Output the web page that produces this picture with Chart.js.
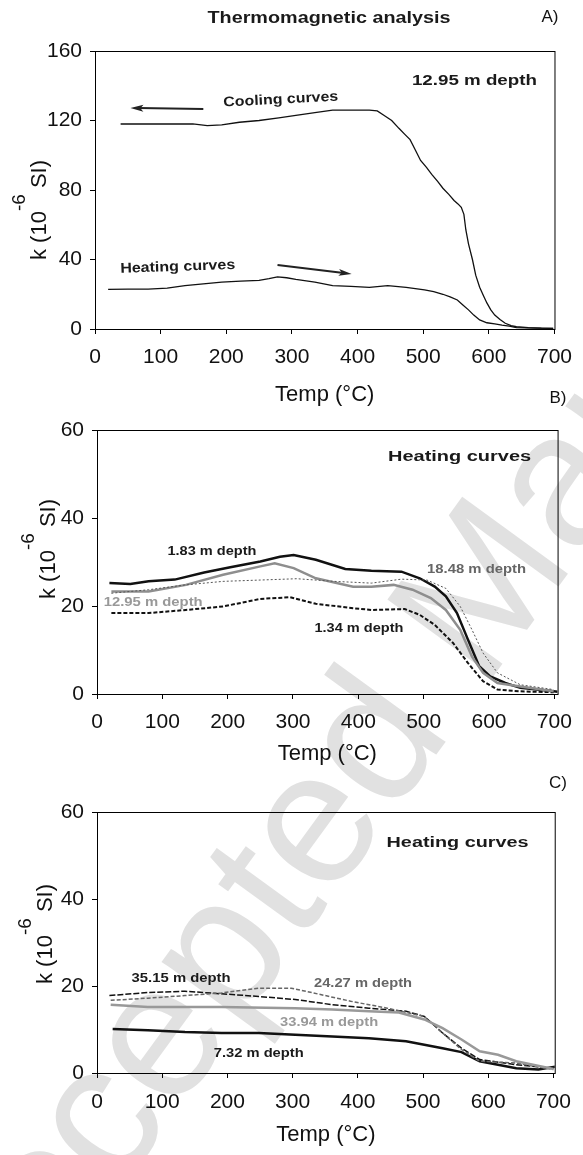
<!DOCTYPE html>
<html>
<head>
    <meta charset="utf-8" />
    <title>Thermomagnetic analysis</title>
    <script src="https://cdn.jsdelivr.net/npm/chart.js"></script>
    <style>
        html, body { margin: 0; padding: 0; background: #fff; overflow: hidden; }
        #page { position: relative; width: 583px; height: 1155px; overflow: hidden; background: #fff; }
        #stamp {
            position: absolute; left: -143px; top: 1278px;
            font: 190px/1 'Liberation Sans', Arial, sans-serif; color: #e1e1e1;
            white-space: nowrap; transform-origin: 0 0; transform: rotate(-54deg);
        }
        canvas { position: absolute; left: 0; }
    </style>
</head>
<body>
    <div id="page">
        <div id="stamp">Accepted Manuscript</div>
        <canvas id="chartA" width="583" height="410" style="top:0"></canvas>
        <canvas id="chartB" width="583" height="385" style="top:385px"></canvas>
        <canvas id="chartC" width="583" height="390" style="top:765px"></canvas>
    </div>

    <script>
        // ---- A) 12.95 m sample, heating and cooling runs ----
        const coolT = [39, 100, 149, 171, 193, 220, 250, 280, 306, 335, 362, 390, 418, 430, 440, 452, 463, 472, 480, 488, 496, 505, 513, 522, 530, 539, 547, 553, 558, 562, 565, 569, 575, 580, 586, 592, 597, 603, 609, 617, 625, 634, 642, 660, 680, 698];
        const coolK = [118, 118, 118, 117, 117.5, 119, 120, 121.5, 123, 124.5, 126, 126, 126, 125.5, 123, 120, 115.5, 112, 109, 103, 97, 93, 89, 85, 81, 77.5, 74, 72, 70, 66, 57, 49, 40, 31, 24, 19, 15, 11, 8, 5.5, 3.3, 2, 1.3, 0.8, 0.5, 0.4];
        const heatT = [20, 50, 81, 110, 137, 165, 193, 222, 250, 265, 278, 292, 306, 335, 362, 390, 418, 446, 474, 502, 516, 530, 541, 552, 560, 569, 577, 586, 597, 609, 620, 631, 642, 670, 698];
        const heatK = [22.8, 23, 23, 23.5, 25, 26, 27, 27.5, 28, 29, 30, 29.5, 28.6, 27, 25, 24.5, 24, 25, 24, 22.5, 21.5, 20, 18.5, 16.7, 14, 11, 8, 5.2, 3.6, 2.9, 2.2, 1.7, 0.8, 0.5, 0.4];

        // ---- B) heating curves ----
        const b183T = [19, 51, 79, 119, 164, 204, 250, 280, 301, 335, 380, 420, 466, 494, 517, 534, 551, 568, 585, 602, 625, 648, 699, 705];
        const b183K = [25.2, 25, 25.6, 26, 27.6, 28.8, 30.1, 31.2, 31.6, 30.5, 28.4, 28, 27.8, 26.3, 24.4, 22.2, 18.4, 12.3, 6.3, 4, 2.5, 1.4, 0.6, 0.5];
        const b1295T = [22, 79, 136, 193, 250, 272, 301, 335, 392, 420, 454, 483, 511, 534, 556, 574, 591, 613, 648, 699];
        const b1295K = [23.3, 23.3, 24.8, 27.1, 29, 29.7, 28.6, 26.3, 24.4, 24.4, 24.8, 23.7, 21.8, 19.1, 14.6, 8.5, 4.8, 2.5, 1.7, 0.6];
        const b1848T = [22, 79, 136, 193, 250, 306, 363, 420, 466, 505, 534, 556, 574, 591, 613, 648, 699];
        const b1848K = [22.9, 23.7, 24.8, 25.6, 25.9, 26.2, 25.6, 25.2, 26.1, 25.9, 24, 19.9, 14.6, 9.3, 4.8, 2.1, 1];
        const b134T = [22, 79, 136, 193, 250, 295, 335, 392, 420, 471, 494, 517, 545, 568, 591, 613, 648, 699];
        const b134K = [18.4, 18.4, 19.1, 19.9, 21.6, 22, 20.5, 19.5, 19.1, 19.3, 18, 15.7, 11.6, 7, 2.9, 1, 0.6, 0.4];

        // ---- C) heating curves ----
        const c3515T = [19, 78, 135, 191, 248, 304, 361, 417, 474, 502, 530, 559, 587, 643, 700];
        const c3515K = [17.8, 18.5, 18.8, 18.2, 17.6, 16.9, 15.7, 14.9, 14.2, 13, 9.2, 5.7, 3.1, 1.9, 1.1];
        const c2427T = [21, 78, 135, 191, 248, 298, 332, 389, 445, 502, 530, 559, 587, 643, 700];
        const c2427K = [16.7, 17.2, 17.8, 18.4, 19.5, 19.5, 18.4, 16.5, 14.9, 13, 9.2, 5.4, 2.7, 2.3, 0.8];
        const c3394T = [21, 78, 191, 304, 361, 417, 463, 502, 530, 559, 587, 615, 643, 700];
        const c3394K = [15.7, 15.2, 15.2, 14.9, 14.6, 14.2, 13.9, 12.3, 10.3, 7.7, 5, 4.2, 2.7, 0.9];
        const c732T = [24, 78, 135, 191, 248, 304, 361, 417, 474, 502, 530, 559, 587, 615, 643, 677, 705];
        const c732K = [10.1, 9.8, 9.4, 9.2, 9.2, 8.8, 8.4, 8, 7.3, 6.5, 5.7, 4.8, 2.7, 1.9, 1.1, 0.8, 1.5];

        const tempTicks = [0, 100, 200, 300, 400, 500, 600, 700];

        const FONT = "'Liberation Sans', Arial, sans-serif";

        function pts(t, k) { return t.map((v, i) => ({ x: v, y: k[i] })); }

        function line(t, k, color, width, dash) {
            return { data: pts(t, k), borderColor: color, borderWidth: width, borderDash: dash || [],
                     pointRadius: 0, tension: 0, fill: false };
        }

        // text squeezed or stretched to a given width
        function putText(ctx, text, x, y, size, bold, color, width, angle) {
            ctx.save();
            ctx.font = (bold ? 'bold ' : '') + size + 'px ' + FONT;
            ctx.fillStyle = color;
            ctx.textAlign = 'center';
            ctx.textBaseline = 'middle';
            ctx.translate(x, y);
            if (angle) ctx.rotate(angle * Math.PI / 180);
            if (width) ctx.scale(width / ctx.measureText(text).width, 1);
            ctx.fillText(text, 0, 0);
            ctx.restore();
        }

        function arrow(ctx, x1, y1, x2, y2) {
            const a = Math.atan2(y2 - y1, x2 - x1);
            ctx.save();
            ctx.strokeStyle = '#222'; ctx.fillStyle = '#222'; ctx.lineWidth = 2;
            ctx.beginPath(); ctx.moveTo(x1, y1); ctx.lineTo(x2 - 8 * Math.cos(a), y2 - 8 * Math.sin(a)); ctx.stroke();
            ctx.translate(x2, y2); ctx.rotate(a);
            ctx.beginPath(); ctx.moveTo(0, 0); ctx.lineTo(-13, -3.5); ctx.lineTo(-10, 0); ctx.lineTo(-13, 3.5); ctx.closePath(); ctx.fill();
            ctx.restore();
        }

        const notes = {
            id: 'notes',
            afterDatasetsDraw(chart, args, o) {
                const { ctx, chartArea: a, scales: { x, y } } = chart;
                ctx.save();
                ctx.strokeStyle = '#000'; ctx.lineWidth = 1;
                ctx.strokeRect(a.left + 0.5, a.top + 0.5, a.right - a.left, a.bottom - a.top);
                ctx.restore();

                (o.labels || []).forEach(l => putText(ctx, l.text, x.getPixelForValue(l.t), y.getPixelForValue(l.k),
                    l.size, true, l.color || '#1a1a1a', l.width, l.angle));
                (o.arrows || []).forEach(r => arrow(ctx, x.getPixelForValue(r[0]), y.getPixelForValue(r[1]),
                    x.getPixelForValue(r[2]), y.getPixelForValue(r[3])));

                // x axis title
                ctx.save();
                ctx.fillStyle = '#111'; ctx.font = '22px ' + FONT;
                ctx.textAlign = 'center'; ctx.textBaseline = 'middle';
                ctx.fillText('Temp (°C)', (a.left + a.right) / 2, o.xTitleY);

                // y axis title with superscript exponent
                ctx.translate(o.yTitleX, o.yTitleY);
                ctx.rotate(-Math.PI / 2);
                ctx.textAlign = 'left'; ctx.textBaseline = 'alphabetic';
                const p1 = 'k (10', p2 = '-6', p3 = ' SI)';
                ctx.font = '22px ' + FONT;
                const w1 = ctx.measureText(p1).width, w3 = ctx.measureText(p3).width;
                ctx.font = '19px ' + FONT;
                const w2 = ctx.measureText(p2).width;
                let u = -(w1 + w2 + w3) / 2;
                ctx.font = '22px ' + FONT;
                ctx.fillText(p1, u, 0); u += w1;
                ctx.font = '19px ' + FONT;
                ctx.fillText(p2, u, -21); u += w2;
                ctx.font = '22px ' + FONT;
                ctx.fillText(p3, u, 0);
                ctx.restore();

                // panel letter and heading
                ctx.save();
                ctx.fillStyle = '#111'; ctx.font = '17px ' + FONT;
                ctx.textAlign = 'center'; ctx.textBaseline = 'middle';
                ctx.fillText(o.panel, o.panelX, o.panelY);
                ctx.restore();
                if (o.heading) putText(ctx, o.heading, 329, 19, 16, true, '#1a1a1a', 243);
            }
        };

        function makeChart(id, datasets, yMax, yStep, xMax, yWidth, pad, tickPad, note) {
            return new Chart(document.getElementById(id), {
                type: 'line',
                data: { datasets: datasets },
                options: {
                    responsive: false,
                    animation: false,
                    layout: { padding: pad },
                    plugins: { legend: { display: false }, tooltip: { enabled: false }, notes: note },
                    scales: {
                        x: {
                            type: 'linear', min: 0, max: xMax,
                            afterFit: s => { s.height = 40; },
                            afterBuildTicks: s => { s.ticks = tempTicks.map(v => ({ value: v })); },
                            border: { display: true, color: '#000', width: 1 },
                            grid: { drawOnChartArea: false, color: '#000', tickLength: 5 },
                            ticks: { color: '#111', font: { family: FONT, size: 21 }, padding: tickPad, maxRotation: 0, autoSkip: false }
                        },
                        y: {
                            min: 0, max: yMax,
                            afterFit: s => { s.width = yWidth; },
                            border: { display: true, color: '#000', width: 1 },
                            grid: { drawOnChartArea: false, color: '#000', tickLength: 5 },
                            ticks: { stepSize: yStep, color: '#111', font: { family: FONT, size: 21 }, padding: 8 }
                        }
                    }
                },
                plugins: [notes]
            });
        }

        makeChart('chartA', [
            line(coolT, coolK, '#111', 1.3),
            line(heatT, heatK, '#111', 1.3)
        ], 160, 40, 700, 95, { left: 0, top: 51, right: 24, bottom: 41 }, 11, {
            heading: 'Thermomagnetic analysis', panel: 'A)', panelX: 550, panelY: 17,
            xTitleY: 395, yTitleX: 46, yTitleY: 210,
            labels: [
                { text: '12.95 m depth', t: 578, k: 143, size: 15, width: 125 },
                { text: 'Cooling curves', t: 283, k: 132, size: 14, width: 115, angle: -3 },
                { text: 'Heating curves', t: 126, k: 35.7, size: 14, width: 115, angle: -2 }
            ],
            arrows: [[165, 126.6, 54, 127.2], [278, 36.8, 391, 31.7]]
        });

        makeChart('chartB', [
            line(b1848T, b1848K, '#555', 1, [2, 2]),
            line(b1295T, b1295K, '#8e8e8e', 2.5),
            line(b134T, b134K, '#111', 2, [4, 2]),
            line(b183T, b183K, '#111', 2.5)
        ], 60, 20, 705, 97, { left: 0, top: 45, right: 25, bottom: 36 }, 11, {
            panel: 'B)', panelX: 558, panelY: 13, xTitleY: 369, yTitleX: 55, yTitleY: 164,
            labels: [
                { text: 'Heating curves', t: 555, k: 53.9, size: 14, width: 143 },
                { text: '1.83 m depth', t: 176, k: 32.3, size: 13, width: 89 },
                { text: '12.95 m depth', t: 86, k: 20.7, size: 13, width: 99, color: '#999' },
                { text: '18.48 m depth', t: 581, k: 28.2, size: 13, width: 99, color: '#666' },
                { text: '1.34 m depth', t: 401, k: 15, size: 13, width: 89 }
            ]
        });

        makeChart('chartC', [
            line(c3394T, c3394K, '#999', 2.5),
            line(c2427T, c2427K, '#666', 1.5, [4, 2]),
            line(c3515T, c3515K, '#111', 1.5, [6, 2]),
            line(c732T, c732K, '#111', 2.5)
        ], 60, 20, 702, 97, { left: 0, top: 47, right: 24, bottom: 42 }, 12, {
            panel: 'C)', panelX: 558, panelY: 18, xTitleY: 370, yTitleX: 52, yTitleY: 169,
            labels: [
                { text: 'Heating curves', t: 553, k: 52.9, size: 14, width: 142 },
                { text: '35.15 m depth', t: 129, k: 21.8, size: 13, width: 99 },
                { text: '24.27 m depth', t: 408, k: 20.7, size: 13, width: 98, color: '#666' },
                { text: '33.94 m depth', t: 356, k: 11.7, size: 13, width: 98, color: '#999' },
                { text: '7.32 m depth', t: 248, k: 4.6, size: 13, width: 90 }
            ]
        });
    </script>
</body>
</html>
